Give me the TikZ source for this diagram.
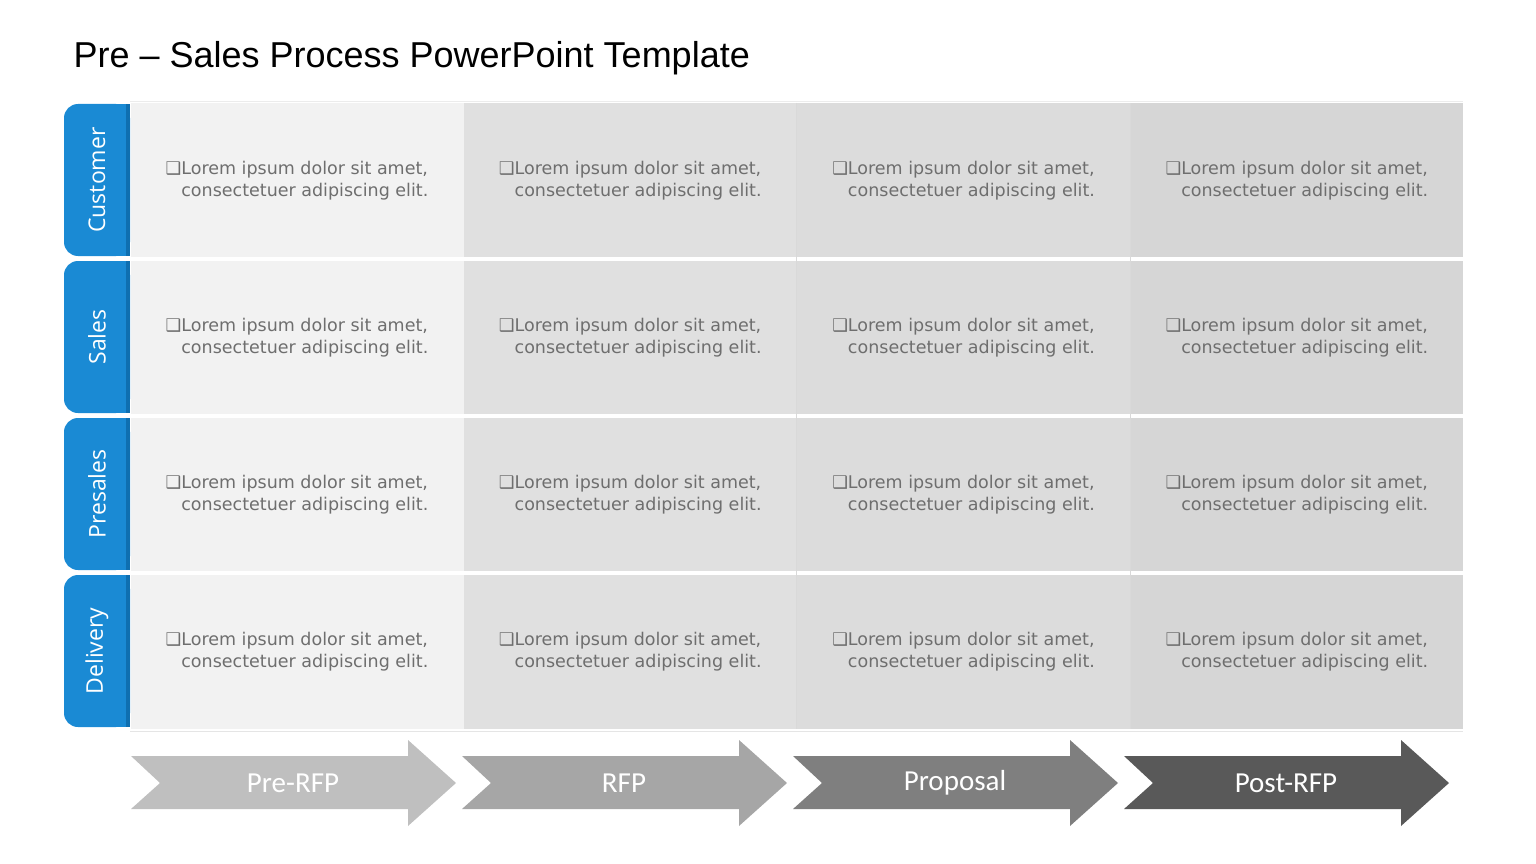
\documentclass[tikz,border=0pt]{standalone}
\usepackage{fontspec}
\setmainfont{Liberation Sans}
\newfontfamily\cellfont{DejaVu Sans}
\newfontfamily\tabfont{Open Sans}
\newfontfamily\stagefont{Carlito}
\usetikzlibrary{positioning,calc}
\definecolor{tabblue}{HTML}{1A8AD4}
\definecolor{tabdark}{HTML}{0F6FB0}
\definecolor{celltext}{HTML}{6E6E6E}
\tikzset{
  cell/.style={fill=#1, draw=none, minimum width=333pt, minimum height=154pt, inner sep=0pt,
    align=left, font=\cellfont\fontsize{17.5}{22}\selectfont, text=celltext},
  tabbox/.style={fill=tabblue, rounded corners=14pt, minimum width=66pt, minimum height=152pt, inner sep=0pt},
  tablabel/.style={rotate=90, text=white, font=\tabfont\fontsize{23}{25}\selectfont},
  stagelabel/.style={text=white, font=\stagefont\fontsize{29}{31}\selectfont}
}
\newcommand{\lorem}{❑Lorem ipsum dolor sit amet,\\\hphantom{❑}consectetuer adipiscing elit.}
\begin{document}
\begin{tikzpicture}[x=1pt,y=-1pt]
  \useasboundingbox (0,0) rectangle (1536,864);
  % Title
  \node (title) [anchor=west, font=\fontsize{36}{40}\selectfont] at (70,58) {Pre -- Sales Process PowerPoint Template};
  % Grid of cells
  \foreach \c/\col in {0/F2F2F2,1/E0E0E0,2/DCDCDC,3/D6D6D6} {
    \foreach \r in {0,1,2,3} {
      \definecolor{cc}{HTML}{\col}
      \node (cell-\r-\c) [cell=cc] at ({297+\c*333.3}, {180.5+\r*157}) {\lorem};
    }
  }
  % Row and column separators
  \foreach \r in {1,2,3}
    \draw[white, line width=2.5pt] (130,{101.5+\r*157}) -- (1463,{101.5+\r*157});
  \foreach \c in {2,3}
    \draw[white!70!gray, line width=0.6pt] ({130+\c*333.3},103) -- ({130+\c*333.3},729);
  \draw[white!85!gray, line width=1pt] (130,102) -- (1463,102);
  \draw[white!80!gray, line width=1pt] (130,731) -- (1463,731);
  % Lane tabs
  \foreach \r/\lab in {0/Customer,1/Sales,2/Presales,3/Delivery} {
    \node (tab-\r) [tabbox] at (97,{180+\r*157}) {};
    \fill[tabblue] ($(tab-\r.north)+(0,0)$) rectangle (tab-\r.south east);
    \fill[tabdark] ($(tab-\r.north east)+(-4,0)$) rectangle (tab-\r.south east);
    \node (lab-\r) [tablabel] at (tab-\r) {\lab};
  }
  % Stage arrows
  \foreach \i/\col/\lab in {0/BFBFBF/Pre-RFP,1/A6A6A6/RFP,2/7F7F7F/Proposal,3/595959/Post-RFP} {
    \definecolor{ac}{HTML}{\col}
    \fill[ac] ({131+\i*331},756) -- ({408+\i*331},756) -- ({408+\i*331},740) -- ({456+\i*331},783)
      -- ({408+\i*331},826) -- ({408+\i*331},809) -- ({131+\i*331},809) -- ({160+\i*331},783) -- cycle;
    \node (stage-\i) [stagelabel] at ({293+\i*331},783) {\lab};
  }
\end{tikzpicture}
\end{document}
